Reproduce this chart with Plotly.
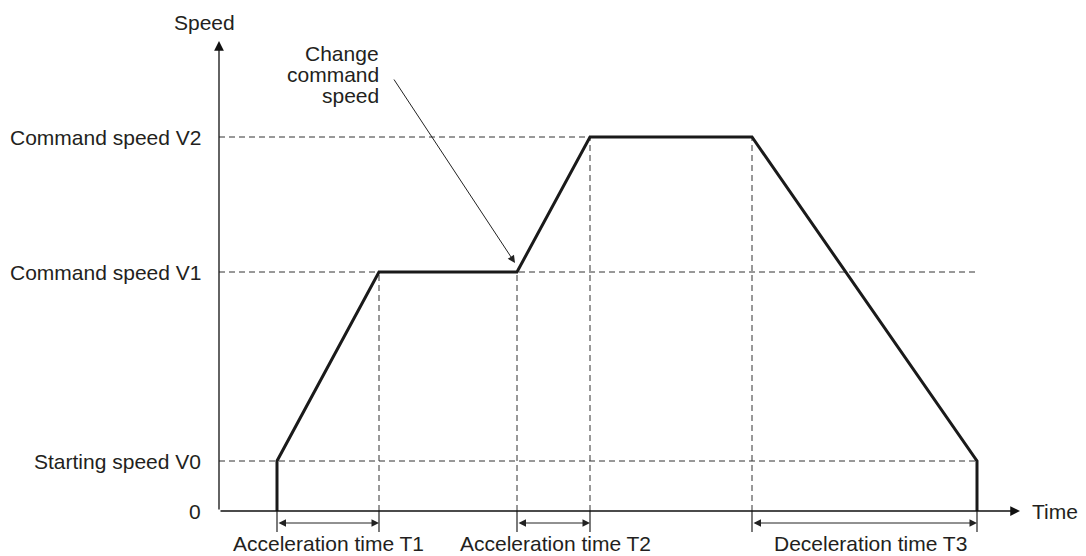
import plotly.graph_objects as go

# ---- data ----
# key time instants (arbitrary time units)
time_points = [5.8, 16.0, 29.8, 37.1, 53.3, 75.8]   # t0..t5
speed_levels = [0.0, 5.0, 23.9, 37.4]               # 0, V0, V1, V2
speed_labels = ["0", "Starting speed V0", "Command speed V1", "Command speed V2"]
interval_labels = ["Acceleration time T1", "Acceleration time T2", "Deceleration time T3"]
interval_pairs = [(0, 1), (2, 3), (4, 5)]

t0, t1, t2, t3, t4, t5 = time_points
_, V0, V1, V2 = speed_levels

profile_t = [t0, t0, t1, t2, t3, t4, t5, t5]
profile_v = [0, V0, V1, V1, V2, V2, V0, 0]

# ---- layout constants ----
X_RANGE = [-21.9, 86.7]
Y_RANGE = [-4.5, 51.1]
TXT = "#231f20"
FONT = "Liberation Sans, Arial, Helvetica, sans-serif"
FS = 21

fig = go.Figure()

dash_style = dict(color="#333333", width=1, dash="6px,4px")

# horizontal dashed guides
for level, t_end in [(V2, t4), (V1, t5), (V0, t5)]:
    fig.add_trace(go.Scatter(x=[0, t_end], y=[level, level], mode="lines",
                             line=dash_style, hoverinfo="skip", showlegend=False))
# vertical dashed guides
for t, level in [(t1, V1), (t2, V1), (t3, V2), (t4, V2)]:
    fig.add_trace(go.Scatter(x=[t, t], y=[0, level], mode="lines",
                             line=dash_style, hoverinfo="skip", showlegend=False))

# ticks below the time axis
for t in time_points:
    fig.add_trace(go.Scatter(x=[t, t], y=[0, -2.1], mode="lines",
                             line=dict(color="#222222", width=1.2),
                             hoverinfo="skip", showlegend=False))

# speed profile
fig.add_trace(go.Scatter(x=profile_t, y=profile_v, mode="lines",
                         line=dict(color="#1a1a1a", width=3),
                         hoverinfo="skip", showlegend=False))

annotations = []

# axes with arrows
annotations.append(dict(x=80.1, y=0, ax=0, ay=0, xref="x", yref="y", axref="x", ayref="y",
                        text="", showarrow=True, arrowhead=2, arrowsize=1.5,
                        arrowwidth=1.3, arrowcolor="#111111", standoff=0))
annotations.append(dict(x=0, y=47.0, ax=0, ay=0, xref="x", yref="y", axref="x", ayref="y",
                        text="", showarrow=True, arrowhead=2, arrowsize=1.5,
                        arrowwidth=1.3, arrowcolor="#111111", standoff=0))

# interval double arrows + labels
label_offsets = [0.0, 0.2, 0.6]
for (a, b), lab, off in zip(interval_pairs, interval_labels, label_offsets):
    ta, tb = time_points[a], time_points[b]
    annotations.append(dict(x=tb, y=-1.2, ax=ta, ay=-1.2, xref="x", yref="y",
                            axref="x", ayref="y", text="", showarrow=True,
                            arrowside="end+start", arrowhead=2, startarrowhead=2,
                            arrowsize=1.5, startarrowsize=1.5, arrowwidth=1,
                            arrowcolor="#222222", standoff=0, startstandoff=0))
    annotations.append(dict(x=(ta + tb) / 2 + off, y=0, xref="x", yref="paper", text=lab,
                            showarrow=False, xanchor="center", yanchor="bottom",
                            borderpad=0,
                            font=dict(family=FONT, size=FS, color=TXT)))

# speed labels
for lev, lab in zip(speed_levels, speed_labels):
    annotations.append(dict(x=-1.6, y=lev, xref="x", yref="y", text=lab,
                            showarrow=False, xanchor="right", yanchor="middle",
                            font=dict(family=FONT, size=FS, color=TXT)))

# axis titles
annotations.append(dict(x=-1.5, y=48.9, xref="x", yref="y", text="Speed",
                        showarrow=False, xanchor="center", yanchor="middle",
                        font=dict(family=FONT, size=FS, color=TXT)))
annotations.append(dict(x=81.1, y=0, xref="x", yref="y", text="Time",
                        showarrow=False, xanchor="left", yanchor="middle",
                        font=dict(family=FONT, size=FS, color=TXT)))

# "Change command speed" callout
for i, line in enumerate(["Change", "command", "speed"]):
    annotations.append(dict(x=16.2, y=45.8 - 2.1 * i, xref="x", yref="y", text=line,
                            showarrow=False, xanchor="right", yanchor="middle",
                            font=dict(family=FONT, size=FS, color=TXT)))
annotations.append(dict(x=t2 - 0.2, y=V1 + 0.9, ax=17.4, ay=43.3, xref="x", yref="y",
                        axref="x", ayref="y", text="", showarrow=True, arrowhead=2,
                        arrowsize=1.5, arrowwidth=1, arrowcolor="#222222", standoff=0))

fig.update_layout(
    width=1086, height=556, autosize=False,
    margin=dict(l=0, r=0, t=0, b=0),
    paper_bgcolor="white", plot_bgcolor="white",
    xaxis=dict(range=X_RANGE, visible=False, showgrid=False, zeroline=False, fixedrange=True),
    yaxis=dict(range=Y_RANGE, visible=False, showgrid=False, zeroline=False, fixedrange=True),
    annotations=annotations,
    showlegend=False,
)

fig.write_html("out.html", config={"displayModeBar": False},
               post_script="document.body.style.margin='0';document.body.style.overflow='hidden';")
